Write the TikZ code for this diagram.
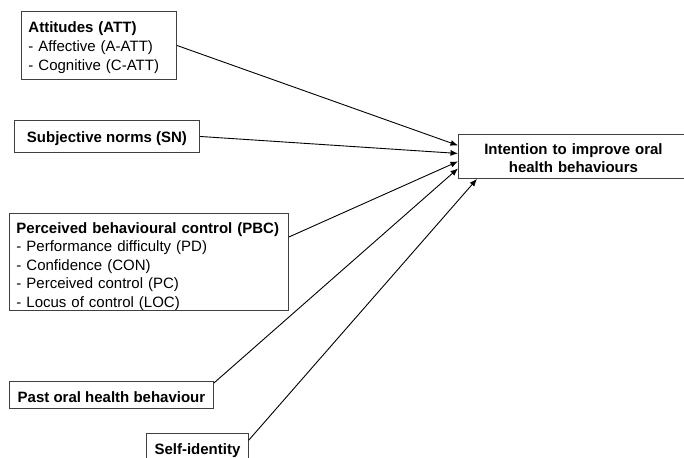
\documentclass[tikz,border=0pt]{standalone}
\usepackage{fontspec}
\setmainfont{Liberation Sans}
\usetikzlibrary{positioning,arrows.meta}

\tikzset{
    factor/.style={
        draw=black!75,
        line width=0.9pt,
        anchor=north west,
        align=left,
        inner xsep=7pt,
        inner ysep=3pt,
        font=\fontsize{15}{18.5}\selectfont
    },
    outcome/.style={
        draw=black!75,
        line width=0.9pt,
        anchor=north west,
        align=center,
        inner xsep=15pt,
        inner ysep=3pt,
        font=\fontsize{15}{18}\selectfont\bfseries
    },
    arrow/.style={-{Latex[length=7.5pt,width=6pt]}, line width=0.9pt}
}

\begin{document}
\begin{tikzpicture}[x=1pt, y=-1pt]

\useasboundingbox (0,0) rectangle (684,457);
\clip (0,0) rectangle (684,457);

% OUTCOME
\node[outcome, text width=200pt, text height=17pt, text depth=21pt] (target) at (458,134)
{Intention to improve oral\\health behaviours};

% PREDICTORS
\node[factor, font=\fontsize{15}{19}\selectfont, text width=141pt, text height=18pt, text depth=44pt] (att) at (21,11)
{\textbf{Attitudes (ATT)}\\- Affective (A-ATT)\\- Cognitive (C-ATT)};

\node[factor, font=\fontsize{15}{18.5}\selectfont\bfseries, minimum width=185pt, text height=19pt, text depth=7pt] (sn) at (14,120)
{Subjective norms (SN)};

\node[factor, text width=265pt, text height=17pt, text depth=74pt] (pbc) at (9,213)
{\textbf{Perceived behavioural control (PBC)}\\- Performance difficulty (PD)\\- Confidence (CON)\\- Perceived control (PC)\\- Locus of control (LOC)};

\node[factor, font=\fontsize{15}{18.5}\selectfont\bfseries, minimum width=204pt, text height=18pt, text depth=3pt] (past) at (9,381)
{Past oral health behaviour};

\node[outcome, inner xsep=6pt, text width=90pt, text height=18pt, text depth=8pt] (self) at (146,433)
{Self-identity};

% PATHS
\draw[arrow] (att.east) -- ([yshift=11pt]target.west);
\draw[arrow] (sn.east) -- ([yshift=3pt]target.west);
\draw[arrow] ([yshift=-24pt]pbc.north east) -- ([yshift=-5pt]target.west);
\draw[arrow] ([yshift=-2pt]past.north east) -- ([yshift=-12pt]target.west);
\draw[arrow] ([yshift=-7pt]self.north east) -- ([xshift=19pt]target.south west);

\end{tikzpicture}
\end{document}
